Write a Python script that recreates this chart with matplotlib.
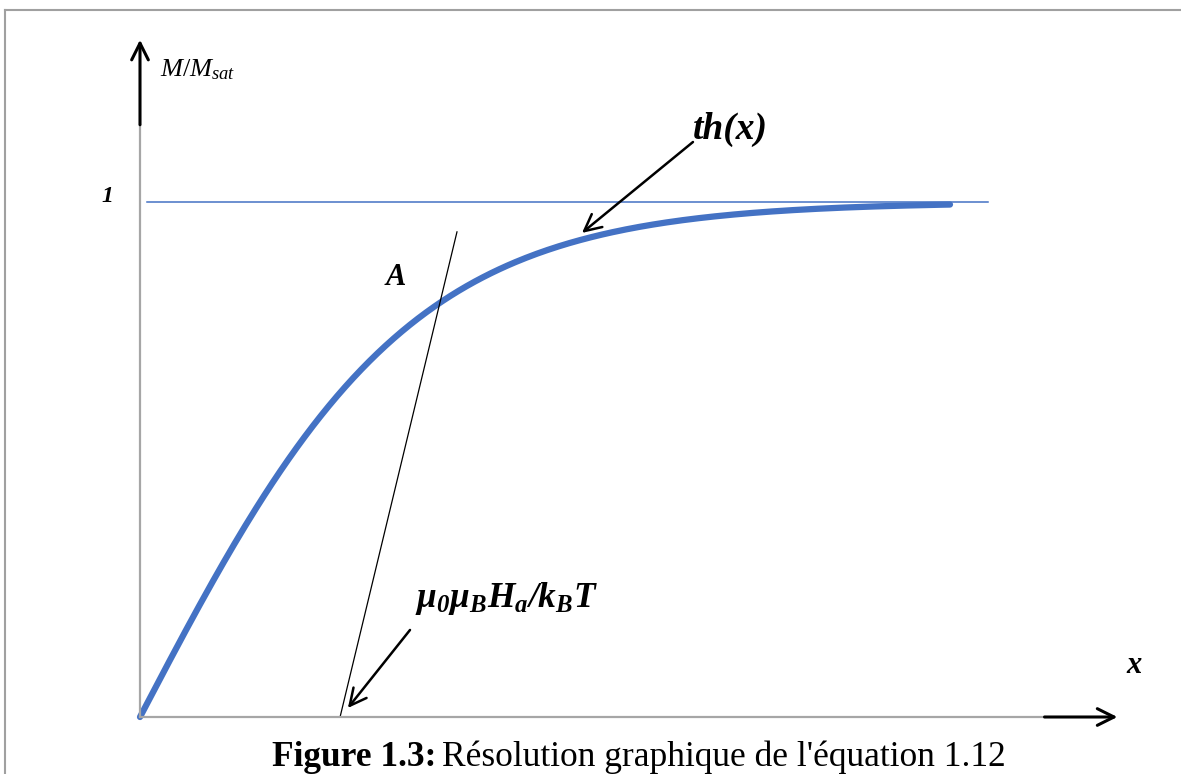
import matplotlib
matplotlib.use("Agg")
import matplotlib.pyplot as plt
from matplotlib.lines import Line2D
import numpy as np

plt.rcParams['font.family'] = ['Liberation Serif', 'DejaVu Serif']
plt.rcParams['mathtext.fontset'] = 'custom'
plt.rcParams['mathtext.rm'] = 'Liberation Serif'
plt.rcParams['mathtext.it'] = 'Liberation Serif:italic'
plt.rcParams['mathtext.bf'] = 'Liberation Serif:bold:italic'

# th(x) sampled over the plotted range
x_curve = np.linspace(0.0, 3.0, 301)
y_curve = np.tanh(x_curve)

# saturation level M/Msat = 1
sat_x = [0.026, 3.14]
sat_y = [1.0, 1.0]

# straight line mu0 muB Ha / kB T, crossing th(x) at A
line_x = [0.741, 1.174]
line_y = [0.0, 0.942]

x_max, y_max = 3.35, 1.15
px_x, px_y = 270, 515  # pixels per unit

W, H = 1181, 774
fig = plt.figure(figsize=(W / 100, H / 100), dpi=100)
ax = fig.add_axes([140 / W, 57 / H, x_max * px_x / W, y_max * px_y / H])
ax.set_xlim(0, x_max)
ax.set_ylim(0, y_max)
for s in ['top', 'right']:
    ax.spines[s].set_visible(False)
for s in ['left', 'bottom']:
    ax.spines[s].set_color('#a6a6a6')
    ax.spines[s].set_linewidth(1.6)
ax.set_xticks([])
ax.set_yticks([])
ax.patch.set_alpha(0)

ax.plot(sat_x, sat_y, color='#4472C4', lw=1.1)
ax.plot(x_curve, y_curve, color='#4472C4', lw=4.5, solid_capstyle='round',
        clip_on=False)
ax.plot(line_x, line_y, color='black', lw=0.9)

# axis arrows
arrow = dict(arrowstyle='->', color='black', lw=2.2, mutation_scale=30,
             shrinkA=0, shrinkB=0)
ax.annotate('', xy=(0, 1.315), xytext=(0, y_max), arrowprops=arrow,
            annotation_clip=False)
ax.annotate('', xy=(3.62, 0), xytext=(x_max, 0), arrowprops=arrow,
            annotation_clip=False)

# pointer arrows
pointer = dict(arrowstyle='->', color='black', lw=1.8, mutation_scale=30,
               shrinkA=0, shrinkB=0)
ax.annotate('', xy=(1.637, 0.940), xytext=(2.048, 1.1165), arrowprops=pointer)
ax.annotate('', xy=(0.770, 0.0175), xytext=(1.0, 0.169), arrowprops=pointer)

bi = dict(fontweight='bold', fontstyle='italic', va='baseline',
          clip_on=False)
ax.text(-0.122, 1.0, '1', fontsize=17, ha='center', **bi)
ax.text(2.048, 1.122, 'th(x)', fontsize=27, ha='left', **bi)
ax.text(0.911, 0.839, 'A', fontsize=22, ha='left', **bi)
ax.text(3.652, 0.085, 'x', fontsize=22, ha='left', **bi)
ax.text(1.019, 0.2136, r'$\mathbf{\mu_0\mu_B H_a/k_B T}$', fontsize=25.5,
        ha='left', va='baseline', clip_on=False)
ax.text(0.074, 1.243, r'$M/M_{sat}$', fontsize=19, ha='left',
        va='baseline', clip_on=False)

# caption
fig.text(436 / W, (H - 766) / H, 'Figure 1.3:', fontsize=25.5,
         fontweight='bold', ha='right', va='baseline')
fig.text(442 / W, (H - 766) / H, "Résolution graphique de l'équation 1.12",
         fontsize=25.5, ha='left', va='baseline')

# frame
fig.add_artist(Line2D([5 / W, 1], [1 - 10 / H] * 2, color='#a0a0a0', lw=1.5))
fig.add_artist(Line2D([5 / W] * 2, [0, 1 - 10 / H], color='#a0a0a0', lw=1.5))

fig.savefig('out.png', dpi=100)
